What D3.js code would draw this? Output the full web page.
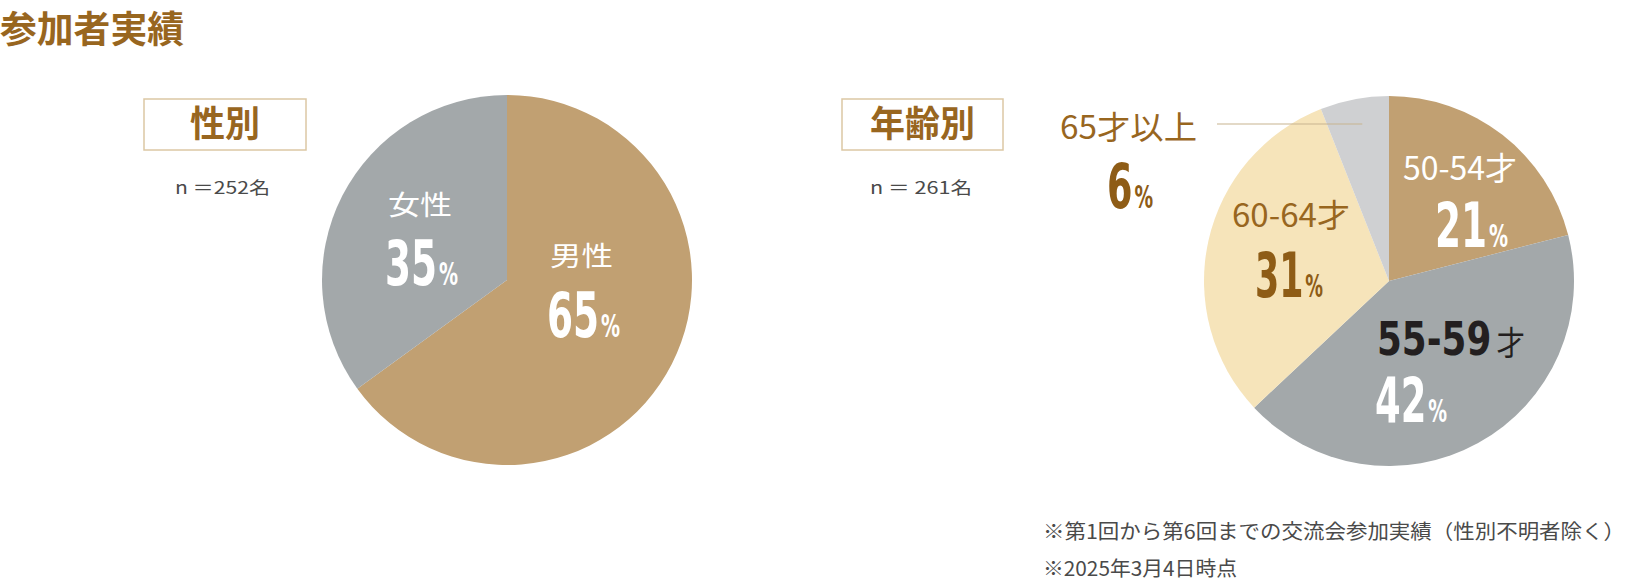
<!DOCTYPE html>
<html lang="ja">
<head>
<meta charset="utf-8">
<script src="https://cdn.jsdelivr.net/npm/d3@7"></script>
<style>
  html, body { margin: 0; padding: 0; background: #fff; }
  #chart { width: 1640px; height: 582px; }
  text { font-family: "Noto Sans CJK JP", "Noto Sans", sans-serif; }
  .num { font-family: "Liberation Sans Narrow", "DejaVu Sans Condensed", "Roboto", sans-serif; font-stretch: condensed; }
</style>
</head>
<body>
<div id="chart"></div>
<script>
// ---- data ----
const genderCats = ["男性", "女性"];
const genderValues = [65, 35];
const genderN = 252;

const ageCats = ["50-54", "55-59", "60-64", "65"];
const ageNames = ["50-54才", "55-59才", "60-64才", "65才以上"];
const ageValues = [21, 42, 31, 6];
const ageN = 261;

const notes = [
  "※第1回から第6回までの交流会参加実績（性別不明者除く）",
  "※2025年3月4日時点"
];

// ---- style ----
const brown = "#98661f";
const colorGender = d3.scaleOrdinal().domain(genderCats).range(["#c1a072", "#a3a8aa"]);
const colorAge = d3.scaleOrdinal().domain(ageCats).range(["#c1a072", "#a3a8aa", "#f6e4ba", "#cfd0d2"]);

const W = 1640, H = 582;
const svg = d3.select("#chart").append("svg")
  .attr("width", W).attr("height", H)
  .attr("viewBox", `0 0 ${W} ${H}`);

// helper: text squeezed to a fixed width
const addText = (g, o) => {
  const t = g.append("text")
    .attr("x", o.x).attr("y", o.y)
    .style("font-size", o.size + "px")
    .style("fill", o.color)
    .style("font-weight", o.weight || 400)
    .text(o.text);
  if (o.cls) t.attr("class", o.cls);
  if (o.w) t.attr("textLength", o.w).attr("lengthAdjust", "spacingAndGlyphs");
  return t;
};

// percentage: big condensed number + small %, one text element
const addPercent = (g, o) => {
  const t = g.append("text")
    .attr("x", o.x).attr("y", o.y)
    .attr("class", "num")
    .style("fill", o.color)
    .style("font-weight", 700)
    .attr("textLength", o.w).attr("lengthAdjust", "spacingAndGlyphs");
  t.append("tspan").style("font-size", "63px").text(o.value);
  t.append("tspan").attr("dx", 3).style("font-size", "32px").text("%");
};

// title
addText(svg, { x: 0, y: 43, size: 37, weight: 700, color: brown, text: "参加者実績", w: 184 });

// heading box
const addBox = (o) => {
  svg.append("rect")
    .attr("x", o.x).attr("y", 99).attr("width", o.w).attr("height", 51)
    .attr("fill", "#fff").attr("stroke", "#dcc7a4").attr("stroke-width", 1.5);
  addText(svg, { x: o.tx, y: 137, size: 36, weight: 700, color: brown, text: o.text, w: o.tw });
  addText(svg, { x: o.nx, y: 194, size: 17, color: "#4a4a4a", text: o.nText, w: o.nw });
};

addBox({ x: 144, w: 162, tx: 190, tw: 70, text: "性別", nx: 175, nw: 95, nText: `n ＝${genderN}名` });
addBox({ x: 842, w: 161, tx: 870, tw: 105, text: "年齢別", nx: 870, nw: 102, nText: `n ＝ ${ageN}名` });

// ---- pies ----
const R = 185;
const pie = d3.pie().sort(null).value(d => d.value);
const arc = d3.arc().innerRadius(0).outerRadius(R);

// 性別
const gData = genderCats.map((c, i) => ({ cat: c, value: genderValues[i] }));
const gPie = svg.append("g").attr("transform", "translate(507,280)");
gPie.selectAll("path")
  .data(pie(gData))
  .enter().append("path")
  .attr("d", arc)
  .attr("fill", d => colorGender(d.data.cat));

// 年齢別
const aData = ageCats.map((c, i) => ({ cat: c, value: ageValues[i] }));
const aCx = 1389, aCy = 281;
const aPie = svg.append("g").attr("transform", `translate(${aCx},${aCy})`);
aPie.selectAll("path")
  .data(pie(aData))
  .enter().append("path")
  .attr("d", arc)
  .attr("fill", d => colorAge(d.data.cat));

// ---- labels: gender ----
addText(svg, { x: 388, y: 215, size: 27, color: "#fff", text: genderCats[1], w: 64 });
addPercent(svg, { x: 385, y: 285, w: 73, color: "#fff", value: genderValues[1] });
addText(svg, { x: 550, y: 266, size: 27, color: "#fff", text: genderCats[0], w: 63 });
addPercent(svg, { x: 547, y: 337, w: 73, color: "#fff", value: genderValues[0] });

// ---- labels: age ----
addText(svg, { x: 1403, y: 180, size: 32, color: "#fff", text: ageNames[0], w: 114 });
addPercent(svg, { x: 1435, y: 247, w: 73, color: "#fff", value: ageValues[0] });

// 55-59才: bold condensed digits + regular 才
const t55 = svg.append("text")
  .attr("x", 1377).attr("y", 355)
  .style("fill", "#231f20")
  .attr("textLength", 148).attr("lengthAdjust", "spacingAndGlyphs");
t55.append("tspan").attr("class", "num").style("font-weight", 700).style("font-size", "46px").text(ageCats[1]);
t55.append("tspan").attr("dx", 6).style("font-size", "33px").text("才");
addPercent(svg, { x: 1375, y: 422, w: 72, color: "#fff", value: ageValues[1] });

addText(svg, { x: 1232, y: 227, size: 32, color: brown, text: ageNames[2], w: 118 });
addPercent(svg, { x: 1255, y: 297, w: 68, color: "#8e5c16", value: ageValues[2] });

addText(svg, { x: 1060, y: 139, size: 32, color: brown, text: ageNames[3], w: 137 });
addPercent(svg, { x: 1107, y: 208, w: 46, color: "#8e5c16", value: ageValues[3] });

// leader line for 65才以上, ending inside its slice
const last = pie(aData)[3];
const midA = (last.startAngle + last.endAngle) / 2;
svg.append("line")
  .attr("x1", 1217).attr("x2", aCx + Math.sin(midA) * R * 0.77)
  .attr("y1", 124).attr("y2", 124)
  .attr("stroke", "#c8b48f").attr("stroke-width", 1.2);

// ---- notes ----
addText(svg, { x: 1043, y: 539, size: 20, color: "#4a4a4a", text: notes[0], w: 582 });
addText(svg, { x: 1043, y: 576, size: 20, color: "#4a4a4a", text: notes[1], w: 194 });
</script>
</body>
</html>
